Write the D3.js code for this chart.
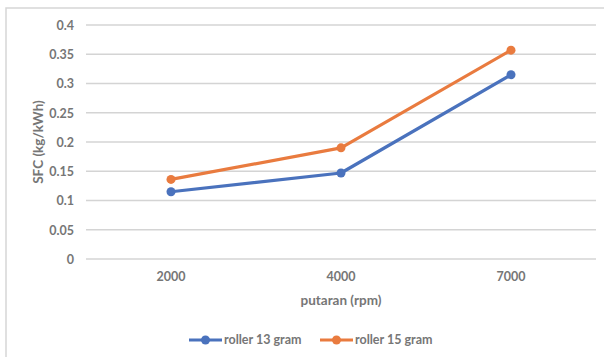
<!DOCTYPE html>
<html>
<head>
<meta charset="utf-8">
<script src="https://cdn.jsdelivr.net/npm/d3@7"></script>
<style>
  html, body { margin: 0; padding: 0; background: #fff; }
  svg { display: block; }
  text { font-family: Lato, "Open Sans", sans-serif; fill: #767676; }
</style>
</head>
<body>
<svg id="chart" width="604" height="357"></svg>
<script>
// SFC versus engine speed for two roller weights
const categories = ["2000", "4000", "7000"];
const roller13 = [0.115, 0.147, 0.315];
const roller15 = [0.136, 0.190, 0.357];
const yTicks = [0, 0.05, 0.1, 0.15, 0.2, 0.25, 0.3, 0.35, 0.4];
const seriesNames = ["roller 13 gram", "roller 15 gram"];
const seriesColors = ["#4A72BD", "#E97B3F"];

const svg = d3.select("#chart");

// chart area frame (clipped on the right and bottom)
svg.append("rect")
  .attr("x", 6).attr("y", 8)
  .attr("width", 620).attr("height", 380)
  .attr("fill", "none").attr("stroke", "#d6d6d6").attr("stroke-width", 1.5);

const x = d3.scaleBand().domain(categories).range([86, 596]);
const y = d3.scaleLinear().domain([0, 0.4]).range([259, 25]);

// horizontal gridlines
svg.append("g")
  .selectAll("line")
  .data(yTicks)
  .join("line")
  .attr("x1", 86).attr("x2", 596)
  .attr("y1", d => y(d)).attr("y2", d => y(d))
  .attr("stroke", "#d4d4d4").attr("stroke-width", 1.3);

// y axis labels
const yAxis = d3.axisLeft(y).tickValues(yTicks).tickSize(0).tickPadding(0)
  .tickFormat(d => d3.format("")(+d.toFixed(2)));
const gy = svg.append("g").attr("transform", "translate(74,0)").call(yAxis);
gy.select(".domain").remove();
gy.selectAll("text").attr("font-size", 12.5).attr("font-family", "Lato, sans-serif")
  .attr("fill", "#767676").attr("dy", "0.35em").attr("font-weight", 700);

// x axis labels
const xAxis = d3.axisBottom(x).tickSize(0).tickPadding(0);
const gx = svg.append("g").attr("transform", "translate(0,272)").call(xAxis);
gx.select(".domain").remove();
gx.selectAll("text").attr("font-size", 12.5).attr("font-family", "Lato, sans-serif")
  .attr("fill", "#767676").attr("dy", "0.71em").attr("font-weight", 700);

// axis titles
svg.append("text")
  .attr("x", 341).attr("y", 300).attr("dy", "0.35em")
  .attr("text-anchor", "middle").attr("font-size", 13.5).attr("font-weight", 700)
  .text("putaran (rpm)");
svg.append("text")
  .attr("transform", "translate(38,142) rotate(-90)")
  .attr("dy", "0.35em")
  .attr("text-anchor", "middle").attr("font-size", 13.5).attr("font-weight", 700)
  .text("SFC (kg/kWh)");

// series lines and markers
const line = d3.line()
  .x((d, i) => x(categories[i]) + x.bandwidth() / 2)
  .y(d => y(d));

[roller13, roller15].forEach((vals, si) => {
  const g = svg.append("g");
  g.append("path")
    .datum(vals)
    .attr("d", line)
    .attr("fill", "none")
    .attr("stroke", seriesColors[si])
    .attr("stroke-width", 3.2)
    .attr("stroke-linejoin", "round");
  g.selectAll("circle")
    .data(vals)
    .join("circle")
    .attr("cx", (d, i) => x(categories[i]) + x.bandwidth() / 2)
    .attr("cy", d => y(d))
    .attr("r", 4.5)
    .attr("fill", seriesColors[si]);
});

// legend
const legendX = [189, 320];
seriesNames.forEach((name, i) => {
  const g = svg.append("g").attr("transform", `translate(${legendX[i]},340)`);
  g.append("line").attr("x1", 0).attr("x2", 33).attr("y1", 0).attr("y2", 0)
    .attr("stroke", seriesColors[i]).attr("stroke-width", 3.2);
  g.append("circle").attr("cx", 16.5).attr("cy", 0).attr("r", 4.5)
    .attr("fill", seriesColors[i]);
  g.append("text").attr("x", 35).attr("y", 0).attr("dy", "0.35em")
    .attr("font-size", 12.5).attr("font-weight", 700).text(name);
});
</script>
</body>
</html>
